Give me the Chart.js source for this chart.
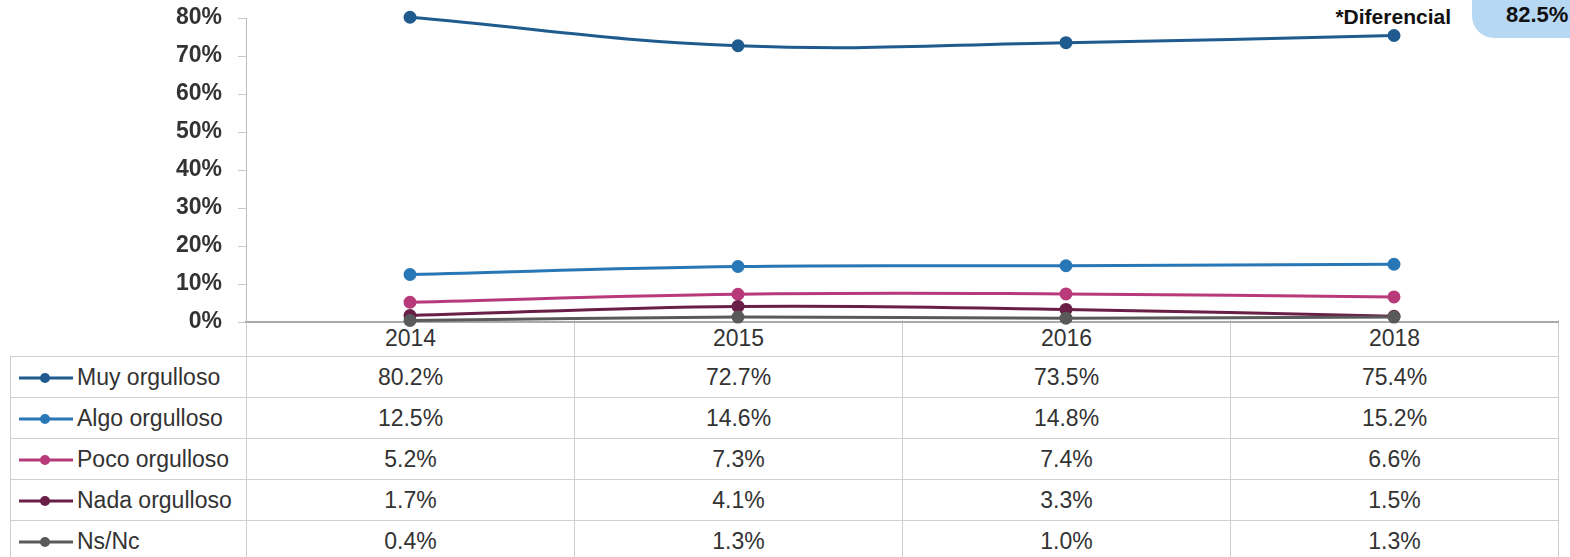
<!DOCTYPE html>
<html>
<head>
<meta charset="utf-8">
<script src="https://cdn.jsdelivr.net/npm/chart.js@4/dist/chart.umd.min.js"></script>
<style>
body{margin:0;background:#fff;font-family:"Liberation Sans",Arial,sans-serif;color:#333}
#wrap{position:relative;width:1570px;height:557px;overflow:hidden;background:#fff}
#chart{position:absolute;left:0;top:0;z-index:2}
#tbl{position:absolute;left:10px;top:320px;border-collapse:collapse;table-layout:fixed;width:1548px;z-index:1}
#tbl td{border:1px solid #cfcfcf;font-size:23px;text-align:center;padding:0;height:40px;color:#333}
#tbl tr.head td{height:36px;border-top:none}
#tbl tr.head td.blank{border-left:none}
#tbl td.lab{text-align:left;white-space:nowrap}
#tbl td.lab svg{vertical-align:middle;margin-left:7px;margin-right:3px}
#tbl td.lab span{vertical-align:middle}
#dif{position:absolute;right:119px;top:5px;font-weight:bold;font-size:21px;color:#111}
#box{position:absolute;left:1472px;top:-22px;width:140px;height:60px;border-radius:22px;background:#b7d8f3}
#box span{position:absolute;left:34px;top:24px;font-weight:bold;font-size:22px;color:#111}
</style>
</head>
<body>
<div id="wrap">
<table id="tbl"></table>
<canvas id="chart" width="1570" height="340"></canvas>
<div id="dif">*Diferencial</div>
<div id="box"><span id="boxVal"></span></div>
</div>
<script>
const years=["2014","2015","2016","2018"]
const seriesNames=["Muy orgulloso","Algo orgulloso","Poco orgulloso","Nada orgulloso","Ns/Nc"]
const muy=[80.2,72.7,73.5,75.4]
const algo=[12.5,14.6,14.8,15.2]
const poco=[5.2,7.3,7.4,6.6]
const nada=[1.7,4.1,3.3,1.5]
const nsnc=[0.4,1.3,1.0,1.3]
const yTicks=[0,10,20,30,40,50,60,70,80]
const diferencial=82.5

const colors=["#1f5b8f","#2877b7","#b83a7a","#6a1f47","#5a5a5a"]
const values=[muy,algo,poco,nada,nsnc]

document.getElementById("boxVal").innerText=diferencial.toFixed(1)+"%"

// table under the plot
const tbl=document.getElementById("tbl")
let html='<colgroup><col style="width:236px">'
years.forEach(()=>{html+='<col style="width:328px">'})
html+='</colgroup><tr class="head"><td class="blank"></td>'
years.forEach(y=>{html+='<td>'+y+'</td>'})
html+='</tr>'
seriesNames.forEach((name,i)=>{
html+='<tr><td class="lab"><svg width="56" height="12"><line x1="1" y1="6" x2="55" y2="6" stroke="'+colors[i]+'" stroke-width="3"/><circle cx="27" cy="6" r="5" fill="'+colors[i]+'"/></svg><span>'+name+'</span></td>'
values[i].forEach(v=>{html+='<td>'+v.toFixed(1)+'%</td>'})
html+='</tr>'
})
tbl.innerHTML=html

const ctx=document.getElementById("chart").getContext("2d")

const chart=new Chart(ctx,{
type:"line",
data:{
labels:years,
datasets:seriesNames.map((name,i)=>({
label:name,
data:values[i],
borderColor:colors[i],
backgroundColor:colors[i],
borderWidth:3,
pointRadius:5,
pointHoverRadius:5,
tension:0.4,
clip:false
})).reverse()
},
options:{
animation:false,
responsive:false,
devicePixelRatio:1,
layout:{padding:{top:18,right:12,bottom:18,left:0}},
plugins:{legend:{display:false},tooltip:{enabled:false}},
scales:{
x:{
offset:true,
ticks:{display:false},
grid:{display:false,drawTicks:false},
border:{display:true,color:"#a9a9a9",width:2}
},
y:{
min:0,
max:80,
afterBuildTicks:s=>{s.ticks=yTicks.map(v=>({value:v}))},
afterFit:s=>{s.width=246;s.paddingTop=0;s.paddingBottom=0},
ticks:{
padding:16,
color:"#333",
font:{family:"Liberation Sans, Arial",size:23,weight:"bold"},
callback:v=>v+"%"
},
grid:{drawOnChartArea:false,tickLength:8,color:"#c8c8c8"},
border:{color:"#bdbdbd",width:1}
}
}
}
})
</script>
</body>
</html>
